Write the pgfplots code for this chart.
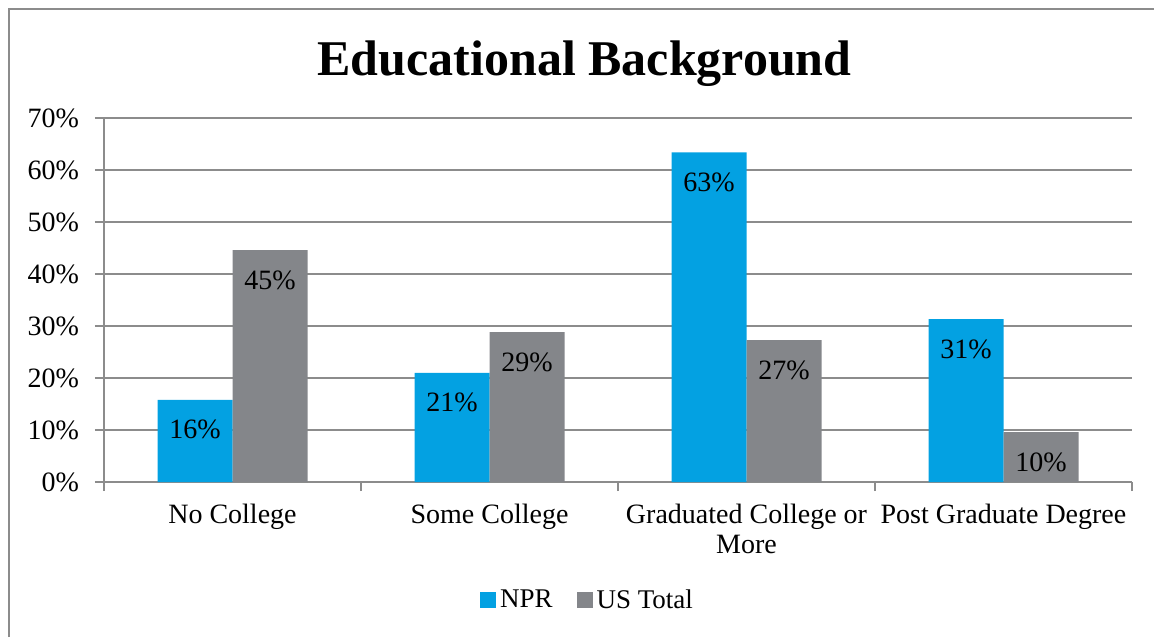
\documentclass[border=0pt]{standalone}
\usepackage{pgfplots}
\pgfplotsset{compat=1.18}
\usepackage{fontspec}
\setmainfont{Liberation Serif}

\definecolor{nprblue}{RGB}{3,161,226}
\definecolor{usgray}{RGB}{132,134,138}
\definecolor{gridgray}{RGB}{140,140,140}

\begin{document}
\begin{tikzpicture}
\useasboundingbox (0,0) rectangle (577pt,318.5pt);
% outer chart frame (only left and top edges are visible)
\draw[gridgray, line width=0.8pt] (4.5pt,0pt) -- (4.5pt,314pt) -- (577pt,314pt);
\node[anchor=base, font=\fontsize{25}{30}\selectfont\bfseries] at (292.3pt,280.5pt) {Educational Background};

\begin{axis}[
    at={(52pt,77.5pt)}, anchor=south west,
    width=514pt, height=182pt, scale only axis,
    ybar=0pt, bar width=37.5pt,
    xmin=-0.5, xmax=3.5,
    ymin=0, ymax=70,
    ytick={0,10,...,70},
    yticklabel={\pgfmathprintnumber{\tick}\%},
    xtick={-0.5,0.5,1.5,2.5,3.5},
    xticklabels={},
    extra x ticks={0,1,2,3},
    extra x tick labels={No College, Some College, {Graduated College or\\More}, Post Graduate Degree},
    extra x tick style={major tick length=0pt, grid=none,
        xticklabel style={align=center, yshift=-7.5pt}},
    axis lines=left, axis line style={-, gridgray, line width=0.8pt},
    tick align=outside, major tick length=4.5pt,
    tick style={gridgray, line width=0.8pt},
    ymajorgrids=true, grid style={gridgray, line width=0.8pt},
    /pgf/number format/assume math mode=true,
    tick label style={font=\fontsize{14}{15}\selectfont},
    yticklabel style={xshift=-4.5pt},
    nodes near coords={\pgfmathprintnumber[fixed,precision=0]{\pgfplotspointmeta}\%},
    every node near coord/.append style={anchor=center, yshift=-15pt,
        font=\fontsize{14}{16}\selectfont, text=black},
    legend style={at={(0.4713,-0.325)}, anchor=center, draw=none,
        legend columns=2, font=\fontsize{13.5}{15}\selectfont,
        /tikz/every even column/.append style={column sep=10pt}},
    legend image code/.code={\fill[#1] (0pt,-4pt) rectangle (8pt,4pt);},
]
\addplot[fill=nprblue, draw=none] coordinates {(0,15.8) (1,21.0) (2,63.4) (3,31.3)};
\addplot[fill=usgray, draw=none] coordinates {(0,44.6) (1,28.8) (2,27.3) (3,9.6)};
\legend{NPR, US Total}
\end{axis}
\end{tikzpicture}
\end{document}
